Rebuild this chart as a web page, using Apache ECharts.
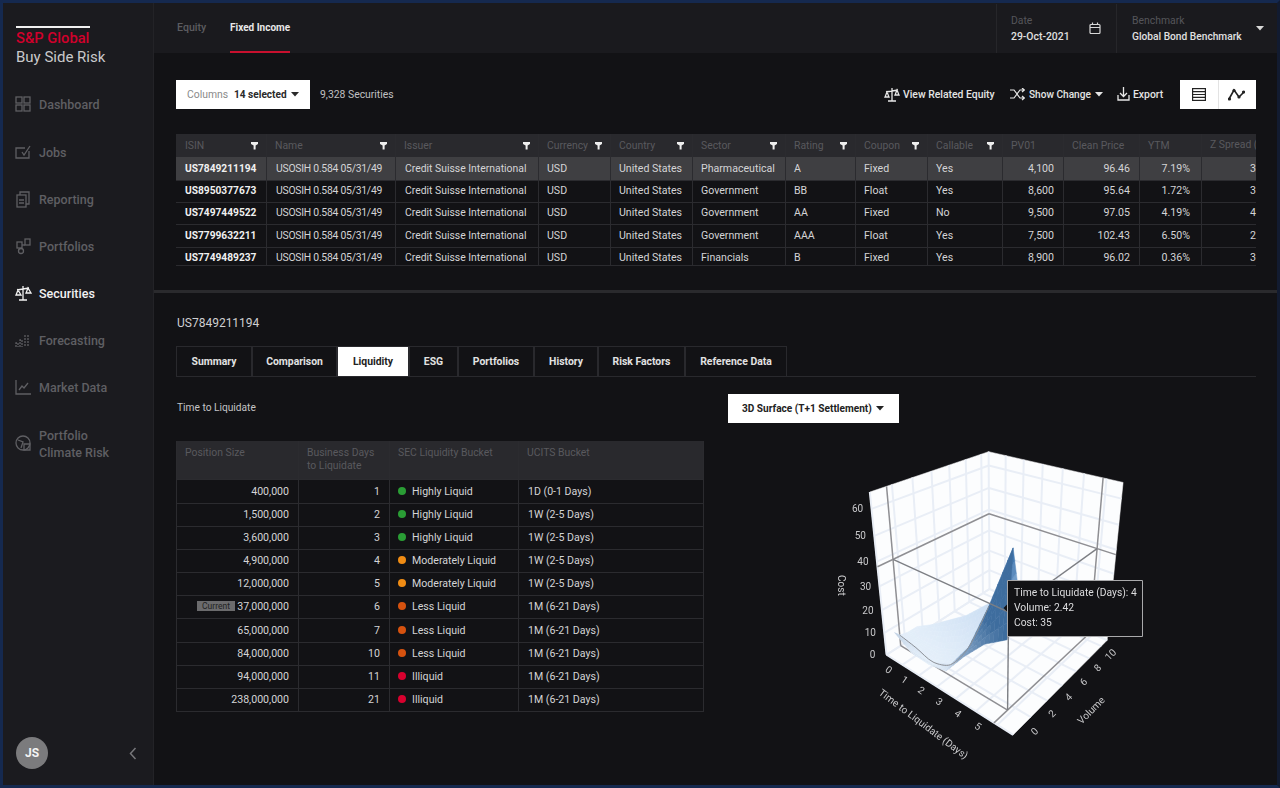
<!DOCTYPE html>
<html>
<head>
<meta charset="utf-8">
<title>Buy Side Risk</title>
<script src="https://cdn.jsdelivr.net/npm/echarts@6/dist/echarts.min.js"></script>
<style>
html, body { margin: 0; padding: 0; background: #121215; }
#page { position: relative; width: 1280px; height: 788px; overflow: hidden; background: #121215; font-family: Roboto, sans-serif; font-size: 10.6px; color: #d4d4d6; }
#page div { position: absolute; white-space: nowrap; box-sizing: border-box; }
#page svg { position: absolute; }
#frame { left: 0; top: 0; width: 1280px; height: 788px; border: 3px solid #15294f; border-right-color: #121b30; pointer-events: none; z-index: 50; }
#chart3d { left: 820px; top: 440px; width: 330px; height: 320px; }
</style>
</head>
<body>
<div id="page">
    <div id="chart3d"></div>
    <div id="frame"></div>
</div>
<script>
// top table
var secColumns = ["ISIN", "Name", "Issuer", "Currency", "Country", "Sector", "Rating", "Coupon", "Callable", "PV01", "Clean Price", "YTM", "Z Spread ("];
var secIsin = ["US7849211194", "US8950377673", "US7497449522", "US7799632211", "US7749489237"];
var secSector = ["Pharmaceutical", "Government", "Government", "Government", "Financials"];
var secRating = ["A", "BB", "AA", "AAA", "B"];
var secCoupon = ["Fixed", "Float", "Fixed", "Float", "Fixed"];
var secCallable = ["Yes", "Yes", "No", "Yes", "Yes"];
var secPv01 = ["4,100", "8,600", "9,500", "7,500", "8,900"];
var secPrice = ["96.46", "95.64", "97.05", "102.43", "96.02"];
var secYtm = ["7.19%", "1.72%", "4.19%", "6.50%", "0.36%"];
var secSpread = ["3", "3", "4", "2", "3"];

// liquidity table
var liqColumns = ["Position Size", "Business Days<br>to Liquidate", "SEC Liquidity Bucket", "UCITS Bucket"];
var liqPosition = ["400,000", "1,500,000", "3,600,000", "4,900,000", "12,000,000", "37,000,000", "65,000,000", "84,000,000", "94,000,000", "238,000,000"];
var liqDays = [1, 2, 3, 4, 5, 6, 7, 10, 11, 21];
var liqBucket = ["Highly Liquid", "Highly Liquid", "Highly Liquid", "Moderately Liquid", "Moderately Liquid", "Less Liquid", "Less Liquid", "Less Liquid", "Illiquid", "Illiquid"];
var liqUcits = ["1D (0-1 Days)", "1W (2-5 Days)", "1W (2-5 Days)", "1W (2-5 Days)", "1W (2-5 Days)", "1M (6-21 Days)", "1M (6-21 Days)", "1M (6-21 Days)", "1M (6-21 Days)", "1M (6-21 Days)"];

var navItems = ["Dashboard", "Jobs", "Reporting", "Portfolios", "Securities", "Forecasting", "Market Data"];
var detailTabs = ["Summary", "Comparison", "Liquidity", "ESG", "Portfolios", "History", "Risk Factors", "Reference Data"];

// surface chart
var dayTicks = [0, 1, 2, 3, 4, 5];
var volumeTicks = [0, 2, 4, 6, 8, 10];
var costTicks = [0, 10, 20, 30, 40, 50, 60];
var surfaceDays = [0, 1, 2, 3, 4, 5, 6];
var surfaceVolumes = [1, 1.5, 2.4, 3.4];
var surfaceCost = [
    [7.5, 2.5, 2, 3.7, 14.6, 24, 30],
    [5, 3.5, 1.5, 5, 17, 37, 60],
    [4, 4, 5, 9, 18, 31, 38],
    [4, 9, 15, 21, 29, 36, 43]
];
// where the hover guide lines cross in the picture
var hoverPoint = [5.85, 1.5, 38];
var tipLines = ["Time to Liquidate (Days): 4", "Volume: 2.42", "Cost: 35"];

var page = document.getElementById("page");
var html = "";

function box(x, y, w, h, css, inner) {
    html += '<div style="left:' + x + 'px;top:' + y + 'px;width:' + w + 'px;height:' + h + 'px;' + (css || '') + '">' + (inner || '') + '</div>';
}
// y is the text's vertical centre
function put(x, y, text, css) {
    html += '<div style="left:' + x + 'px;top:' + y + 'px;transform:translateY(-50%);' + (css || '') + '">' + text + '</div>';
}
function putRight(x, y, text, css) {
    html += '<div style="right:' + (1280 - x) + 'px;top:' + y + 'px;transform:translateY(-50%);' + (css || '') + '">' + text + '</div>';
}
function svg(x, y, w, h, body) {
    html += '<svg style="left:' + x + 'px;top:' + y + 'px" width="' + w + '" height="' + h + '" viewBox="0 0 ' + w + ' ' + h + '">' + body + '</svg>';
}
function caret(x, y, color) {
    svg(x, y, 8, 5, '<path d="M0 0H8L4 4.5Z" fill="' + color + '"/>');
}
function funnel(x, y) {
    svg(x, y, 8, 8, '<path d="M0 0H7V2L4.6 3.6V7.6H2.6V3.6L0 2Z" fill="#eee"/>');
}

// sidebar + top bar
box(0, 0, 154, 788, "background:#1b1b1f;border-right:1px solid #232327");
box(154, 0, 1126, 53, "background:#1a1a1e");
box(16, 26, 74, 2, "background:#f0f0f0");
put(16, 38, "S&amp;P Global", "font-size:14.7px;font-weight:500;color:#d1002b");
put(16, 57, "Buy Side Risk", "font-size:15px;color:#c9c9cb");

var navY = [104, 152, 199, 246, 293, 340, 387];
var navIcons = [
    '<rect x="1" y="1" width="6" height="6"/><rect x="9" y="1" width="6" height="6"/><rect x="1" y="9" width="6" height="6"/><rect x="9" y="9" width="6" height="6"/>',
    '<path d="M14 7V14H1V4H10M7 8L9 11L15 2"/>',
    '<rect x="2" y="4" width="9" height="12"/><path d="M5 4V1H14V13H11M4 9H9M4 12H9"/>',
    '<rect x="10" y="1" width="5" height="6"/><rect x="2" y="4" width="5" height="6"/><circle cx="6" cy="13" r="2.5"/><path d="M7 7H10"/>',
    '<path d="M8 1V15M4 15H12M2 5L14 3M3 5L1 10H6L3 5ZM13 3L11 8H16L13 3Z"/>',
    '<path d="M1 15V11H3V15M5 15V8H7V15M10 14V2M13 14V2" stroke-dasharray="2 1"/>',
    '<path d="M1 1V15H16M4 11L7 7L9 9L13 4"/>'
];
for (var i = 0; i < navItems.length; i++) {
    var on = navItems[i] == "Securities";
    var c = on ? "#f2f2f2" : "#5f5f63";
    svg(15, navY[i] - 8, 17, 17, '<g fill="none" stroke="' + c + '" stroke-width="1.3">' + navIcons[i] + '</g>');
    put(39, navY[i], navItems[i], "font-size:12.5px;font-weight:500;color:" + c);
}
svg(15, 435, 17, 17, '<g fill="none" stroke="#5f5f63" stroke-width="1.3"><circle cx="8" cy="8" r="7"/><path d="M3 5L8 7L6 13M9 9H15V15H9Z"/></g>');
put(39, 435, "Portfolio", "font-size:12.5px;font-weight:500;color:#5f5f63");
put(39, 452, "Climate Risk", "font-size:12.5px;font-weight:500;color:#5f5f63");
box(16, 737, 32, 32, "background:#7b7b7d;border-radius:50%;color:#f4f4f4;font-size:12px;font-weight:700;text-align:center;line-height:32px", "JS");
svg(129, 747, 8, 13, '<path d="M6.5 1L1.5 6.5L6.5 12" fill="none" stroke="#77777a" stroke-width="1.5"/>');

put(177, 27, "Equity", "font-size:10.6px;font-weight:500;color:#5c5c60");
put(230, 27, "Fixed Income", "font-size:10px;font-weight:700;color:#e8e8e8");
box(230, 51, 60, 2, "background:#c8102e");
box(996, 4, 1, 49, "background:#26262a");
box(1116, 4, 1, 49, "background:#26262a");
put(1011, 20, "Date", "font-size:10.4px;color:#55555a");
put(1011, 36, "29-Oct-2021", "font-size:10.4px;font-weight:500;color:#e0e0e0");
svg(1089, 22, 13, 13, '<g fill="none" stroke="#d8d8d8" stroke-width="1.2"><rect x="1" y="2.5" width="10" height="9" rx="1"/><path d="M1 5.5H11M3.5 0.5V3M8.5 0.5V3"/></g>');
put(1132, 20, "Benchmark", "font-size:10.4px;color:#55555a");
put(1132, 36, "Global Bond Benchmark", "font-size:10.2px;font-weight:500;color:#e0e0e0");
caret(1256, 26, "#d8d8d8");

// toolbar
box(176, 80, 134, 29, "background:#fff");
put(187, 94, "Columns", "font-size:10.4px;color:#8a8a8a");
put(234, 94, "14 selected", "font-size:10.1px;font-weight:700;color:#2a2a2a");
caret(291, 92, "#2a2a2a");
put(320, 94, "9,328 Securities", "font-size:10.4px;color:#c0c0c2");
svg(884, 87, 16, 15, '<g fill="none" stroke="#e8e8e8" stroke-width="1.3"><path d="M8 1V14M4 14H12M2 5L14 3M3 5L1 10H5ZM13 3L11 8H15Z"/></g>');
put(903, 94, "View Related Equity", "font-size:10.4px;font-weight:500;color:#e4e4e4");
svg(1010, 88, 15, 13, '<g fill="none" stroke="#e8e8e8" stroke-width="1.2"><path d="M0 2H4L10 10H14M0 10H4L10 2H14M12 0L14.5 2L12 4M12 8L14.5 10L12 12"/></g>');
put(1029, 94, "Show Change", "font-size:10.1px;font-weight:500;color:#e4e4e4");
caret(1095, 92, "#e4e4e4");
svg(1117, 87, 13, 14, '<g fill="none" stroke="#e8e8e8" stroke-width="1.3"><path d="M6.5 0V9M3 6L6.5 9.5L10 6M1 8V13H12V8"/></g>');
put(1133, 94, "Export", "font-size:10.4px;font-weight:500;color:#e4e4e4");
box(1180, 80, 76, 29, "background:#fff");
box(1218, 80, 1, 29, "background:#e3e3e3");
svg(1192, 88, 14, 13, '<g stroke="#222" stroke-width="1.2" fill="none"><rect x="0.6" y="0.6" width="12.8" height="11.8"/><path d="M1 3.6H13M1 6.5H13M1 9.4H13"/></g>');
svg(1228, 88, 17, 13, '<path d="M1 11L6 2L11 9L16 4" fill="none" stroke="#222" stroke-width="1.6"/><g fill="#222"><circle cx="6" cy="2.5" r="1.6"/><circle cx="11" cy="9" r="1.6"/><circle cx="1.5" cy="11" r="1.6"/><circle cx="15.5" cy="4" r="1.6"/></g>');

// securities table
var secEdges = [176, 266, 395, 538, 610, 692, 785, 855, 927, 1002, 1063, 1139, 1201, 1256];
var secRowTop = [157, 180, 202, 224, 247, 265];
var secRowMid = [167.5, 190, 212, 234.5, 257];
box(176, 134, 1080, 23, "background:#29292d");
box(176, 157, 1080, 23, "background:#3f3f42");
for (var r = 1; r < secRowTop.length; r++) {
    box(176, secRowTop[r], 1080, 1, "background:#2b2b2f");
}
for (var k = 0; k < secEdges.length - 1; k++) {
    if (k > 0) box(secEdges[k], 134, 1, 131, "background:#2b2b2f");
    var labelX = secEdges[k] + 9;
    if (k < 12) {
        put(labelX, 145, secColumns[k], "font-size:10.4px;color:#59595e");
    } else {
        box(labelX, 138, 1256 - labelX, 14, "overflow:hidden;font-size:10.4px;line-height:14px;color:#59595e", secColumns[k]);
    }
    if (k < 9) funnel(secEdges[k + 1] - 15, 142);
}
for (var r = 0; r < secIsin.length; r++) {
    var m = secRowMid[r];
    put(185, m, secIsin[r], "font-size:10.2px;font-weight:700;color:#f0f0f0");
    put(276, m, "USOSIH 0.584 05/31/49", "font-size:10.4px;letter-spacing:-0.25px");
    put(405, m, "Credit Suisse International", "font-size:10.4px");
    put(547, m, "USD");
    put(619, m, "United States");
    put(701, m, secSector[r]);
    put(794, m, secRating[r]);
    put(864, m, secCoupon[r]);
    put(936, m, secCallable[r]);
    putRight(1054, m, secPv01[r]);
    putRight(1130, m, secPrice[r]);
    putRight(1190, m, secYtm[r]);
    putRight(1256, m, secSpread[r]);
}

// detail panel
box(154, 290, 1126, 3, "background:#2a2a2d");
put(177, 323, "US7849211194", "font-size:12px;color:#cfcfd1");
var tabEdges = [176, 252, 337, 409, 458, 534, 598, 685, 787];
box(176, 346, 1080, 31, "border-bottom:1px solid #29292d");
for (var t = 0; t < detailTabs.length; t++) {
    var active = detailTabs[t] == "Liquidity";
    box(tabEdges[t], 346, tabEdges[t + 1] - tabEdges[t], 31,
        "text-align:center;line-height:30px;font-size:10.4px;font-weight:700;border:1px solid #29292d;" +
        (active ? "background:#fff;color:#222" : "color:#e2e2e2"), detailTabs[t]);
}
put(177, 407, "Time to Liquidate", "font-size:10.2px;color:#c4c4c6");
box(728, 394, 171, 29, "background:#fff");
put(742, 408, "3D Surface (T+1 Settlement)", "font-size:10.1px;font-weight:700;color:#222");
caret(876, 406, "#222");

// liquidity table
var liqEdges = [176, 298, 389, 518, 704];
box(176, 441, 528, 38, "background:#29292d");
for (var k = 0; k < 4; k++) {
    if (k > 0) box(liqEdges[k], 441, 1, 270, "background:#2b2b2f");
    html += '<div style="left:' + (liqEdges[k] + 9) + 'px;top:446px;line-height:13px;font-size:10.4px;color:#59595e">' + liqColumns[k] + '</div>';
}
var dotColor = { "Highly Liquid": "#2a9d35", "Moderately Liquid": "#f08c14", "Less Liquid": "#d6520f", "Illiquid": "#d8002e" };
for (var r = 0; r < liqPosition.length; r++) {
    var rowTop = 479.5 + r * 23.15;
    var mid = rowTop + 11.2;
    box(176, rowTop + 23.15, 528, 1, "background:#2b2b2f");
    putRight(289, mid, liqPosition[r]);
    putRight(380, mid, liqDays[r]);
    box(398, mid - 4, 8, 8, "border-radius:50%;background:" + dotColor[liqBucket[r]]);
    put(412, mid, liqBucket[r]);
    put(528, mid, liqUcits[r]);
}
box(197, 601, 38, 10, "background:#6b6b6d;color:#222;font-size:8.5px;line-height:10px;text-align:center", "Current");
box(176, 479, 528, 1, "background:#2b2b2f");
box(176, 441, 1, 270, "background:#2b2b2f");
box(703, 441, 1, 270, "background:#2b2b2f");

page.insertAdjacentHTML("afterbegin", html);

// ---------- 3D surface ----------
var xMax = 6.7, yMax = 13, zMax = 66;

// box corners, [days, volume, cost fractions] -> px in the chart div
var boxCorners = [
    [[0, 0, 0], [66.7, 215]],
    [[0, 0, 1], [50, 51.7]],
    [[0, 1, 1], [168.3, 11.7]],
    [[1, 1, 1], [303.3, 42.7]],
    [[1, 0, 0], [192.7, 295]],
    [[1, 1, 0], [287.3, 200]]
];

function solveCamera(pairs) {
    var rows = [], rhs = [];
    pairs.forEach(function (p) {
        var X = p[0][0], Y = p[0][1], Z = p[0][2], u = p[1][0], v = p[1][1];
        rows.push([X, Y, Z, 1, 0, 0, 0, 0, -u * X, -u * Y, -u * Z]); rhs.push(u);
        rows.push([0, 0, 0, 0, X, Y, Z, 1, -v * X, -v * Y, -v * Z]); rhs.push(v);
    });
    var n = 11, M = [];
    for (var i = 0; i < n; i++) {
        M[i] = [];
        for (var j = 0; j <= n; j++) {
            var s = 0;
            for (var k = 0; k < rows.length; k++) s += rows[k][i] * (j == n ? rhs[k] : rows[k][j]);
            M[i][j] = s;
        }
    }
    for (var i = 0; i < n; i++) {
        var piv = i;
        for (var k = i + 1; k < n; k++) if (Math.abs(M[k][i]) > Math.abs(M[piv][i])) piv = k;
        var tmp = M[i]; M[i] = M[piv]; M[piv] = tmp;
        for (var k = 0; k < n; k++) {
            if (k == i) continue;
            var f = M[k][i] / M[i][i];
            for (var j = i; j <= n; j++) M[k][j] -= f * M[i][j];
        }
    }
    var out = [];
    for (var i = 0; i < n; i++) out.push(M[i][n] / M[i][i]);
    return out;
}
var cam = solveCamera(boxCorners);

// data values -> flat pixel position
function project(d, v, c) {
    var X = d / xMax, Y = v / yMax, Z = c / zMax;
    var w = cam[8] * X + cam[9] * Y + cam[10] * Z + 1;
    return [(cam[0] * X + cam[1] * Y + cam[2] * Z + cam[3]) / w, (cam[4] * X + cam[5] * Y + cam[6] * Z + cam[7]) / w];
}
function depth(d, v, c) {
    return cam[8] * d / xMax + cam[9] * v / yMax + cam[10] * c / zMax + 1;
}

function hex2rgb(h) {
    return [parseInt(h.substr(1, 2), 16), parseInt(h.substr(3, 2), 16), parseInt(h.substr(5, 2), 16)];
}
var colorStops = [[0, "#e6f0fa"], [30, "#cbdef3"], [45, "#7fa8d2"], [60, "#2c67a3"]];
function costColor(c, dark) {
    var i = 0;
    while (i < colorStops.length - 2 && c > colorStops[i + 1][0]) i++;
    var a = colorStops[i], b = colorStops[i + 1];
    var t = Math.max(0, Math.min(1, (c - a[0]) / (b[0] - a[0])));
    var ca = hex2rgb(a[1]), cb = hex2rgb(b[1]);
    var rgb = [0, 1, 2].map(function (n) {
        var x = ca[n] + (cb[n] - ca[n]) * t;
        return Math.round(x * (1 - dark) + [105, 122, 145][n] * dark);
    });
    return "rgb(" + rgb.join(",") + ")";
}

// walls, floor and grid
var wallParts = [
    [[0, 0, 0], [0, 0, zMax], [0, yMax, zMax], [0, yMax, 0]],
    [[0, yMax, 0], [0, yMax, zMax], [xMax, yMax, zMax], [xMax, yMax, 0]],
    [[0, 0, 0], [xMax, 0, 0], [xMax, yMax, 0], [0, yMax, 0]]
];
var gridSegments = [];
[0, 1, 2, 3, 4, 5, 6].forEach(function (d) {
    gridSegments.push([[d, 0, 0], [d, yMax, 0]]);
    gridSegments.push([[d, yMax, 0], [d, yMax, zMax]]);
});
[0, 2, 4, 6, 8, 10, 12].forEach(function (v) {
    gridSegments.push([[0, v, 0], [xMax, v, 0]]);
    gridSegments.push([[0, v, 0], [0, v, zMax]]);
});
costTicks.forEach(function (c) {
    gridSegments.push([[0, 0, c], [0, yMax, c]]);
    gridSegments.push([[0, yMax, c], [xMax, yMax, c]]);
});

// hover guide lines
var hd = hoverPoint[0], hv = hoverPoint[1], hc = hoverPoint[2];
var spikesOver = [
    [[0, hv, hc], [hd, hv, hc]],
    [[hd, hv, hc], [hd, yMax, hc]],
    [[hd, hv, hc], [hd, hv, 0]]
];
var spikesUnder = [
    [[0, hv, 0], [hd, hv, 0]],
    [[hd, 0, 0], [hd, yMax, 0]],
    [[0, hv, 0], [0, hv, zMax]],
    [[hd, yMax, 0], [hd, yMax, zMax]],
    [[0, 0, hc], [0, yMax, hc]],
    [[0, yMax, hc], [xMax, yMax, hc]]
];

// surface cells, far ones first
var cells = [];
for (var vi = 0; vi < surfaceVolumes.length - 1; vi++) {
    for (var di = 0; di < surfaceDays.length - 1; di++) {
        cells.push([vi, di]);
    }
}
cells.sort(function (a, b) {
    var da = depth(surfaceDays[a[1]], surfaceVolumes[a[0]], 0);
    var db = depth(surfaceDays[b[1]], surfaceVolumes[b[0]], 0);
    return db - da;
});

function coordOf(api, p) {
    return api.coord(project(p[0], p[1], p[2]));
}

function renderPolygon(parts, style) {
    return function (params, api) {
        var pts = parts[params.dataIndex].map(function (p) { return coordOf(api, p); });
        return { type: "polygon", shape: { points: pts }, style: style };
    };
}
function renderSegment(parts, style) {
    return function (params, api) {
        var seg = parts[params.dataIndex];
        var a = coordOf(api, seg[0]), b = coordOf(api, seg[1]);
        return { type: "line", shape: { x1: a[0], y1: a[1], x2: b[0], y2: b[1] }, style: style };
    };
}
function renderCell(params, api) {
    var cell = cells[params.dataIndex], vi = cell[0], di = cell[1];
    var d0 = surfaceDays[di], d1 = surfaceDays[di + 1], v0 = surfaceVolumes[vi], v1 = surfaceVolumes[vi + 1];
    var z00 = surfaceCost[vi][di], z01 = surfaceCost[vi][di + 1], z10 = surfaceCost[vi + 1][di], z11 = surfaceCost[vi + 1][di + 1];
    var steps = 5, kids = [];
    function at(s, t) {
        var zt = z00 * (1 - s) * (1 - t) + z01 * s * (1 - t) + z10 * (1 - s) * t + z11 * s * t;
        return [d0 + (d1 - d0) * s, v0 + (v1 - v0) * t, zt];
    }
    for (var a = 0; a < steps; a++) {
        for (var b = steps - 1; b >= 0; b--) {
            var p1 = at(a / steps, b / steps), p2 = at((a + 1) / steps, b / steps), p3 = at((a + 1) / steps, (b + 1) / steps), p4 = at(a / steps, (b + 1) / steps);
            var mean = (p1[2] + p2[2] + p3[2] + p4[2]) / 4;
            // the front row faces the viewer and reads darker
            var shade = vi == 0 ? Math.max(0, Math.min(1, (mean - 2) / 9)) : 0;
            var col = costColor(mean + 28 * shade, 0.3 * shade);
            kids.push({
                type: "polygon",
                shape: { points: [p1, p2, p3, p4].map(function (p) { return coordOf(api, p); }) },
                style: { fill: col, stroke: col, lineWidth: 0.5 }
            });
        }
    }
    return { type: "group", children: kids };
}
function renderContour(params, api) {
    var row = surfaceVolumes.indexOf(hv);
    var pts = surfaceDays.slice(0, 6).map(function (d, i) { return coordOf(api, [d, hv, surfaceCost[row][i]]); });
    return { type: "polyline", shape: { points: pts, smooth: 0.3 }, style: { fill: "none", stroke: "#8c9096", lineWidth: 1 } };
}

// axis tick labels and titles
var axisTexts = [];
dayTicks.forEach(function (d) { axisTexts.push({ at: [d, 0, 0], dx: 1.7, dy: 15.7, text: String(d), rot: -35 }); });
volumeTicks.forEach(function (v) { axisTexts.push({ at: [xMax, v, 0], dx: 22, dy: -3, text: String(v), rot: 45 }); });
costTicks.forEach(function (c) { axisTexts.push({ at: [0, 0, c], dx: -14, dy: 1, text: String(c), rot: 0 }); });
axisTexts.push({ at: [3, 0, 0], dx: -14, dy: 38, text: "Time to Liquidate (Days)", rot: -37 });
axisTexts.push({ at: [xMax, 5, 0], dx: 37, dy: 18, text: "Volume", rot: 45 });
axisTexts.push({ at: [0, 0, 30], dx: -39, dy: -1, text: "Cost", rot: -90 });

function renderAxisText(params, api) {
    var t = axisTexts[params.dataIndex];
    var p = coordOf(api, t.at);
    return {
        type: "text", x: p[0] + t.dx, y: p[1] + t.dy, rotation: t.rot * Math.PI / 180,
        style: { text: t.text, fill: "#c9c9cb", font: "400 10px Roboto", align: "center", verticalAlign: "middle" }
    };
}

function idx(list) {
    return list.map(function (x, i) { return [i]; });
}
function layer(z, list, fn) {
    return { type: "custom", coordinateSystem: "cartesian2d", clip: false, silent: true, animation: false, z: z, data: idx(list), encode: { x: 0 }, renderItem: fn };
}

var myChart = echarts.init(document.getElementById("chart3d"), null, { width: 330, height: 320 });
var tipY = [153.5, 168.5, 183.5];
var option = {
    animation: false,
    grid: { left: 0, right: 0, top: 0, bottom: 0 },
    xAxis: { type: "value", min: 0, max: 330, show: false },
    yAxis: { type: "value", min: 0, max: 320, inverse: true, show: false },
    series: [
        layer(1, wallParts, renderPolygon(wallParts, { fill: "#fcfdfe", stroke: "#fcfdfe", lineWidth: 0.5 })),
        layer(2, gridSegments, renderSegment(gridSegments, { stroke: "#e9eef6", lineWidth: 2 })),
        layer(3, spikesUnder, renderSegment(spikesUnder, { stroke: "#8f8f93", lineWidth: 1.5 })),
        layer(4, cells, renderCell),
        layer(5, [0], renderContour),
        layer(6, spikesOver, renderSegment(spikesOver, { stroke: "#7d7f84", lineWidth: 1.4 })),
        layer(7, axisTexts, renderAxisText)
    ],
    graphic: [
        { type: "polygon", z: 100, shape: { points: [[183.5, 168], [188.5, 163], [188.5, 173]] }, style: { fill: "#121215" } },
        { type: "rect", z: 100, shape: { x: 187.5, y: 140.5, width: 135, height: 56 }, style: { fill: "#121215", stroke: "#a9a9ab", lineWidth: 1 } },
        { type: "text", z: 101, x: 194, y: tipY[0], style: { text: tipLines[0], fill: "#dcdcde", font: "400 10.3px Roboto", verticalAlign: "middle" } },
        { type: "text", z: 101, x: 194, y: tipY[1], style: { text: tipLines[1], fill: "#dcdcde", font: "400 10.3px Roboto", verticalAlign: "middle" } },
        { type: "text", z: 101, x: 194, y: tipY[2], style: { text: tipLines[2], fill: "#dcdcde", font: "400 10.3px Roboto", verticalAlign: "middle" } }
    ]
};
myChart.setOption(option);
</script>
</body>
</html>
